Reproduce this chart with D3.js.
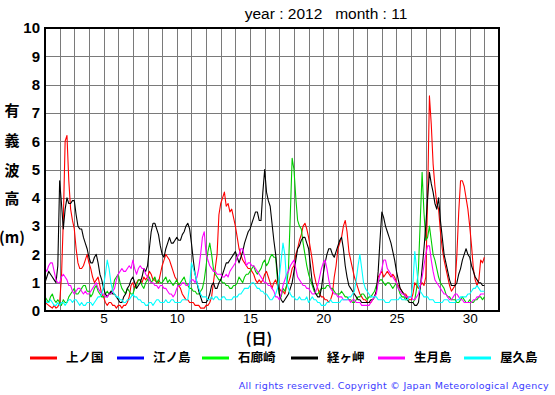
<!DOCTYPE html>
<html>
<head>
<meta charset="utf-8">
<script src="https://cdn.jsdelivr.net/npm/d3@7"></script>
<style>
  body { margin: 0; background: #fff; }
  svg { display: block; }
</style>
</head>
<body>
<svg id="chart" width="555" height="395"></svg>
<script>
// wave height (m), 3 hourly, first value = day 1 00h, 8 values per day
const days = [1, 32];
const yTicks = [0, 1, 2, 3, 4, 5, 6, 7, 8, 9, 10];
const xTickLabels = [5, 10, 15, 20, 25, 30];
const stepDays = 0.125;

const kaminokuni = [
  0.3,0.25,0.2,0.15,0.1,0.2,0.1,0.15, 0.3,1.2,3.2,6.0,6.2,4.6,3.6,3.2, 2.9,2.2,1.7,1.5,1.5,1.6,1.8,2.0,
  1.7,1.5,1.2,1.0,1.1,1.2,0.9,0.6, 0.5,0.3,0.2,0.3,0.3,0.2,0.2,0.1, 0.2,0.2,0.1,0.2,0.2,0.3,0.5,0.9,
  1.0,0.8,1.0,1.1,1.1,1.0,1.2,1.1, 1.2,1.4,1.3,1.1,1.1,1.0,1.0,1.3, 1.6,1.8,2.0,1.9,1.8,1.6,1.4,1.2,
  1.1,0.9,0.8,0.6,0.5,0.4,0.4,0.3, 0.3,0.3,0.2,0.2,0.2,0.1,0.1,0.1, 0.2,0.2,0.3,0.5,1.0,1.5,2.0,3.4,
  3.8,4.0,4.2,3.7,3.8,3.5,3.6,3.3, 3.0,2.6,2.2,2.0,1.8,1.7,1.6,1.5, 1.5,1.4,1.3,1.1,1.0,1.1,1.0,1.1,
  1.3,1.4,1.2,1.0,0.8,1.0,1.1,0.9, 0.8,0.7,0.7,0.6,0.9,1.0,1.2,1.5, 1.6,2.0,2.2,2.5,2.7,3.0,3.1,2.9,
  2.6,2.2,1.8,1.3,1.0,0.8,0.6,0.5, 0.5,0.4,0.4,0.3,0.4,0.6,1.2,1.6, 2.2,2.4,2.6,3.0,3.2,2.8,2.1,1.8,
  1.5,1.2,1.0,0.8,0.6,0.5,0.4,0.4, 0.3,0.3,0.3,0.4,0.5,0.7,1.2,1.3, 1.4,1.2,1.3,1.4,1.3,1.2,1.3,1.2,
  1.0,0.9,0.8,0.7,0.6,0.6,0.5,0.4, 0.4,0.6,1.0,0.9,0.8,0.9,1.0,0.9, 1.2,4.0,7.6,6.6,5.2,4.4,3.8,3.6,
  2.8,2.2,1.8,1.5,1.2,0.9,0.7,0.8, 0.9,2.0,3.5,4.6,4.6,4.4,4.0,3.6, 3.0,2.3,1.5,1.1,0.9,1.1,1.8,1.7,
  1.9];
const enoshima = [];
const irozaki = [
  0.5,0.4,0.3,0.5,0.6,0.4,0.3,0.4, 0.3,0.2,0.4,0.3,0.3,0.5,0.6,0.7, 0.8,0.6,0.6,0.7,0.8,0.9,0.9,0.7,
  0.7,0.5,0.6,0.8,0.9,0.7,0.6,0.5, 0.5,0.6,0.7,0.6,0.6,0.8,1.1,1.2, 1.3,1.0,0.8,0.7,0.6,0.8,0.7,0.6,
  0.6,0.8,0.9,1.1,1.1,0.9,0.8,1.0, 1.1,1.2,1.0,1.1,1.2,1.0,1.1,1.0, 1.0,1.1,1.2,1.0,1.1,1.0,0.9,1.0,
  1.1,0.9,1.0,1.1,1.2,1.0,0.9,0.8, 0.8,0.7,0.7,0.6,0.6,0.7,0.8,1.1, 1.6,2.1,2.4,2.0,1.5,1.3,1.2,1.1,
  1.1,1.0,1.0,0.9,0.9,0.8,0.8,0.9, 0.9,1.0,1.2,1.1,1.0,1.2,1.3,1.3, 1.4,1.5,1.6,1.4,1.3,1.4,1.5,1.7,
  1.8,1.6,1.7,1.9,2.0,1.9,1.9,1.1, 0.6,0.5,0.8,0.7,0.9,1.5,3.4,5.4, 5.0,4.0,3.2,3.0,2.9,2.4,2.0,1.6,
  1.3,1.1,0.9,0.7,0.6,0.6,0.7,0.8, 0.8,0.8,0.9,0.9,0.8,0.8,0.7,0.6, 0.6,0.6,0.7,0.6,0.5,0.5,0.4,0.4,
  0.3,0.3,0.4,0.5,0.5,0.6,0.6,0.5, 0.4,0.5,0.5,0.6,0.7,0.9,1.0,1.1, 1.1,1.0,0.9,1.0,1.0,0.9,0.8,0.9,
  1.0,0.8,0.6,0.5,0.5,0.4,0.4,0.3, 0.3,0.3,0.4,0.8,1.5,3.2,4.9,3.5, 2.5,2.6,3.0,2.5,2.0,1.8,1.5,1.2,
  1.0,0.9,0.8,0.6,0.5,0.5,0.4,0.4, 0.4,0.3,0.3,0.4,0.5,0.4,0.3,0.3, 0.4,0.3,0.3,0.4,0.4,0.5,0.5,0.4,
  0.5];
const kyogamisaki = [
  1.0,1.2,1.4,1.3,1.2,1.1,1.0,1.6, 4.6,3.8,2.9,3.6,4.0,3.8,3.8,3.9, 3.9,3.4,3.0,2.9,2.9,2.6,2.4,2.2,
  1.9,1.7,1.7,1.9,2.0,1.7,1.3,1.1, 0.8,0.6,0.5,0.6,0.7,0.6,0.6,0.5, 0.4,0.3,0.3,0.5,0.6,0.8,0.9,1.1,
  1.2,1.0,0.8,0.9,1.0,1.2,1.5,1.4, 1.6,2.2,2.8,3.1,3.1,2.9,2.7,2.3, 2.0,1.9,2.2,2.4,2.6,2.4,2.4,2.5,
  2.6,2.5,2.5,2.7,2.8,3.0,3.1,2.9, 2.4,1.8,1.3,1.0,0.7,0.5,0.3,0.3, 0.3,0.4,0.6,0.9,1.0,0.8,0.8,1.0,
  1.1,1.3,1.5,1.7,1.7,1.8,1.9,2.0, 2.1,1.9,1.7,1.9,2.1,2.4,2.6,2.8, 2.9,3.1,3.3,3.5,3.5,3.2,3.2,4.2,
  5.0,4.2,3.9,3.7,3.1,2.5,2.0,1.3, 0.6,0.4,0.3,0.4,0.5,0.6,0.8,1.0, 1.4,1.8,2.2,2.3,2.5,2.6,2.6,2.4,
  2.2,1.6,1.0,0.8,0.6,0.5,0.5,0.8, 1.3,1.7,2.0,2.2,2.2,2.0,1.9,2.1, 2.3,2.5,2.6,2.2,1.6,1.2,0.9,0.8,
  0.7,0.6,0.5,0.4,0.4,0.3,0.3,0.3, 0.3,0.3,0.4,0.4,0.5,0.7,1.4,2.5, 3.5,3.3,3.0,2.8,2.6,2.4,2.1,1.8,
  1.4,1.1,0.8,0.7,0.6,0.5,0.4,0.3, 0.3,0.3,0.2,0.2,0.3,0.8,1.5,2.2, 3.0,4.0,4.9,4.5,4.2,3.8,3.6,4.0,
  3.2,2.6,2.0,1.7,1.4,1.1,0.9,0.9, 0.9,1.0,1.3,1.5,1.8,2.0,2.2,2.0, 1.9,1.6,1.4,1.2,1.1,1.0,1.0,0.9,
  0.9];
const ikitsukishima = [
  1.5,1.4,1.6,1.7,1.7,1.4,1.1,1.0, 1.0,1.2,1.3,1.2,1.1,0.9,0.9,0.7, 0.6,0.7,0.8,0.8,0.7,0.6,0.7,0.6,
  0.6,0.7,0.8,0.9,1.0,0.8,0.7,0.6, 0.6,0.5,0.5,0.6,0.6,0.7,0.8,1.1, 1.3,1.4,1.5,1.4,1.4,1.5,1.6,1.5,
  1.8,1.5,1.3,1.5,1.6,1.5,1.5,1.3, 1.2,1.1,1.0,1.0,0.9,0.9,0.8,0.9, 0.9,0.8,0.8,0.7,0.6,0.6,0.5,0.6,
  0.8,0.9,0.9,1.0,1.0,0.9,0.9,1.0, 1.1,1.1,1.0,1.2,1.5,2.0,2.6,2.8, 2.0,1.8,1.6,1.5,1.4,1.4,1.3,1.3,
  1.3,1.2,1.2,1.3,1.2,1.4,1.5,1.6, 1.7,1.9,2.0,2.2,2.2,1.9,1.6,1.7, 1.7,1.6,1.6,1.5,1.4,1.3,1.2,1.1,
  1.0,1.0,0.9,0.9,0.8,0.7,0.5,0.5, 0.4,0.6,0.9,1.1,1.3,1.4,1.6,1.7, 1.8,1.5,1.2,1.1,1.0,0.9,0.9,0.8,
  0.8,0.7,0.6,0.6,0.7,0.9,1.2,1.5, 1.7,1.8,1.5,1.1,0.8,0.7,0.6,0.6, 0.5,0.5,0.5,0.4,0.4,0.4,0.4,0.3,
  0.4,0.4,0.3,0.3,0.3,0.2,0.2,0.2, 0.2,0.2,0.3,0.4,0.5,0.6,1.0,1.3, 1.5,1.8,1.8,1.5,1.4,1.3,1.2,1.1,
  1.0,0.8,0.7,0.6,0.6,0.5,0.5,0.5, 0.5,0.4,0.4,0.5,0.6,0.9,1.2,1.6, 2.0,2.3,2.3,1.8,1.4,1.1,1.0,0.9,
  0.8,0.7,0.6,0.6,0.5,0.4,0.4,0.5, 0.6,0.6,0.5,0.4,0.4,0.3,0.3,0.3, 0.3,0.3,0.4,0.4,0.5,0.5,0.6,0.6,
  0.6];
const yakushima = [
  0.4,0.3,0.3,0.4,0.3,0.2,0.2,0.3, 0.2,0.3,0.3,0.2,0.3,0.4,0.4,0.3, 0.4,0.4,0.3,0.2,0.3,0.2,0.2,0.3,
  0.3,0.3,0.2,0.3,0.4,0.5,0.5,0.6, 0.9,1.3,1.8,1.5,1.0,0.7,0.6,0.5, 0.5,0.4,0.4,0.3,0.3,0.4,0.4,0.5,
  0.6,0.5,0.5,0.4,0.4,0.3,0.3,0.2, 0.2,0.3,0.3,0.2,0.3,0.4,0.4,0.3, 0.3,0.3,0.4,0.3,0.3,0.4,0.4,0.3,
  0.3,0.3,0.3,0.4,0.4,0.4,0.4,0.9, 1.7,1.5,1.3,1.0,0.8,0.6,0.5,0.5, 0.5,0.4,0.4,0.5,0.4,0.5,0.5,0.4,
  0.4,0.5,0.5,0.4,0.4,0.4,0.4,0.5, 0.5,0.5,0.6,0.6,0.7,0.8,0.8,0.8, 0.9,1.0,1.0,0.9,0.8,0.8,0.7,0.7,
  0.6,0.6,0.5,0.4,0.4,0.5,0.6,0.8, 1.2,1.8,2.4,2.0,1.0,0.8,0.6,0.5, 0.5,0.4,0.4,0.5,0.4,0.4,0.4,0.5,
  0.3,0.4,0.5,0.4,0.4,0.3,0.3,0.2, 0.2,0.2,0.3,0.3,0.4,0.3,0.3,0.3, 0.3,0.3,0.4,0.4,0.4,0.4,0.5,0.5,
  0.6,0.7,1.1,1.6,2.0,1.5,1.0,0.8, 0.7,0.6,0.5,0.5,0.5,0.5,0.4,0.4, 0.4,0.4,0.3,0.3,0.3,0.4,0.4,0.4,
  0.4,0.4,0.5,0.4,0.4,0.4,0.4,0.5, 0.5,1.0,2.1,1.5,0.9,0.7,0.6,0.5, 0.5,0.5,0.4,0.4,0.4,0.3,0.3,0.3,
  0.3,0.3,0.4,0.4,0.4,0.3,0.3,0.3, 0.3,0.4,0.4,0.5,0.5,0.5,0.5,0.6, 0.6,0.7,0.8,0.8,0.9,0.8,0.7,0.7,
  0.7];

const stations = ["上ノ国", "江ノ島", "石廊崎", "経ヶ岬", "生月島", "屋久島"];
const stationData = [kaminokuni, enoshima, irozaki, kyogamisaki, ikitsukishima, yakushima];
const lineColors = ["#ff0000", "#0000ff", "#00cc00", "#000000", "#ff00ff", "#00ffff"];
const legendColors = ["#ff0000", "#0000ff", "#00ff00", "#000000", "#ff00ff", "#00ffff"];

const svg = d3.select("#chart");
const plotL = 45, plotR = 499, plotT = 28, plotB = 311;

const x = d3.scaleLinear().domain(days).range([plotL, plotR]);
const y = d3.scaleLinear().domain([0, 10]).range([plotB, plotT]);

// grid
const grid = svg.append("g").attr("stroke", "#7a7a7a").attr("stroke-width", 1);
grid.selectAll("line.v")
  .data(d3.range(days[0] + 1, days[1]))
  .enter().append("line")
  .attr("x1", d => Math.round(x(d)) + 0.5).attr("x2", d => Math.round(x(d)) + 0.5)
  .attr("y1", plotT).attr("y2", plotB);
grid.selectAll("line.h")
  .data(yTicks.slice(1, -1))
  .enter().append("line")
  .attr("x1", plotL).attr("x2", plotR)
  .attr("y1", d => Math.round(y(d)) + 0.5).attr("y2", d => Math.round(y(d)) + 0.5);

// series
const line = d3.line()
  .x((d, i) => x(days[0] + i * stepDays))
  .y(d => y(d));

svg.append("clipPath").attr("id", "plotclip")
  .append("rect").attr("x", plotL).attr("y", plotT).attr("width", plotR - plotL).attr("height", plotB - plotT);

svg.append("g").attr("clip-path", "url(#plotclip)")
  .selectAll("path")
  .data(stationData)
  .enter().append("path")
  .attr("d", d => d.length ? line(d) : null)
  .attr("fill", "none")
  .attr("stroke", (d, i) => lineColors[i])
  .attr("stroke-width", 1.1)
  .attr("stroke-linejoin", "round");

// frame
svg.append("rect")
  .attr("x", plotL).attr("y", plotT)
  .attr("width", plotR - plotL).attr("height", plotB - plotT)
  .attr("fill", "none").attr("stroke", "#000").attr("stroke-width", 2);

// y axis labels
const yAxis = d3.axisLeft(y).tickValues(yTicks).tickSize(0).tickPadding(5).tickFormat(d3.format("d"));
const gy = svg.append("g").attr("transform", `translate(${plotL},0)`).call(yAxis);
gy.select(".domain").remove();
gy.selectAll("text")
  .attr("font-family", "Liberation Sans, Arial, sans-serif")
  .attr("font-size", 15).attr("font-weight", "bold").attr("fill", "#000");

// x axis labels
const xAxis = d3.axisBottom(x).tickValues(xTickLabels).tickSize(0).tickPadding(2);
const gx = svg.append("g").attr("transform", `translate(0,${plotB})`).call(xAxis);
gx.select(".domain").remove();
gx.selectAll("text")
  .attr("font-family", "Liberation Sans, Arial, sans-serif")
  .attr("font-size", 13.5).attr("fill", "#000");

// title
svg.append("text")
  .attr("x", 326).attr("y", 19)
  .attr("text-anchor", "middle")
  .attr("font-family", "Liberation Sans, Arial, sans-serif")
  .attr("font-size", 15.5)
  .attr("xml:space", "preserve")
  .text("year : 2012   month : 11");

// y title, one character per row
const yTitle = ["有", "義", "波", "高", "(m)"];
const yTitlePos = [111, 141, 171, 199, 238];
svg.append("g").selectAll("text")
  .data(yTitle)
  .enter().append("text")
  .attr("x", 12).attr("y", (d, i) => yTitlePos[i])
  .attr("dy", "0.35em")
  .attr("text-anchor", "middle")
  .attr("font-family", "Noto Sans CJK JP, sans-serif")
  .attr("font-size", 15).attr("font-weight", "bold")
  .text(d => d);

svg.append("text")
  .attr("x", 259).attr("y", 343.5)
  .attr("text-anchor", "middle")
  .attr("font-family", "Noto Sans CJK JP, sans-serif")
  .attr("font-size", 15).attr("font-weight", "bold")
  .text("(日)");

// legend
const legendX = [30, 117, 202, 291, 378, 464];
const lg = svg.append("g").selectAll("g")
  .data(stations)
  .enter().append("g")
  .attr("transform", (d, i) => `translate(${legendX[i]},358)`);
lg.append("line")
  .attr("x1", 0).attr("x2", 27).attr("y1", 0).attr("y2", 0)
  .attr("stroke", (d, i) => legendColors[i]).attr("stroke-width", 3);
lg.append("text")
  .attr("x", 36).attr("dy", "0.35em")
  .attr("font-family", "Noto Sans CJK JP, sans-serif")
  .attr("font-size", 12.5).attr("font-weight", "bold")
  .text(d => d);

// copyright
svg.append("text")
  .attr("x", 549).attr("y", 389)
  .attr("text-anchor", "end")
  .attr("font-family", "DejaVu Sans, sans-serif")
  .attr("font-size", 9.5)
  .attr("letter-spacing", 0.3)
  .attr("fill", "#3b3bff")
  .text("All rights reserved. Copyright © Japan Meteorological Agency");
</script>
</body>
</html>
